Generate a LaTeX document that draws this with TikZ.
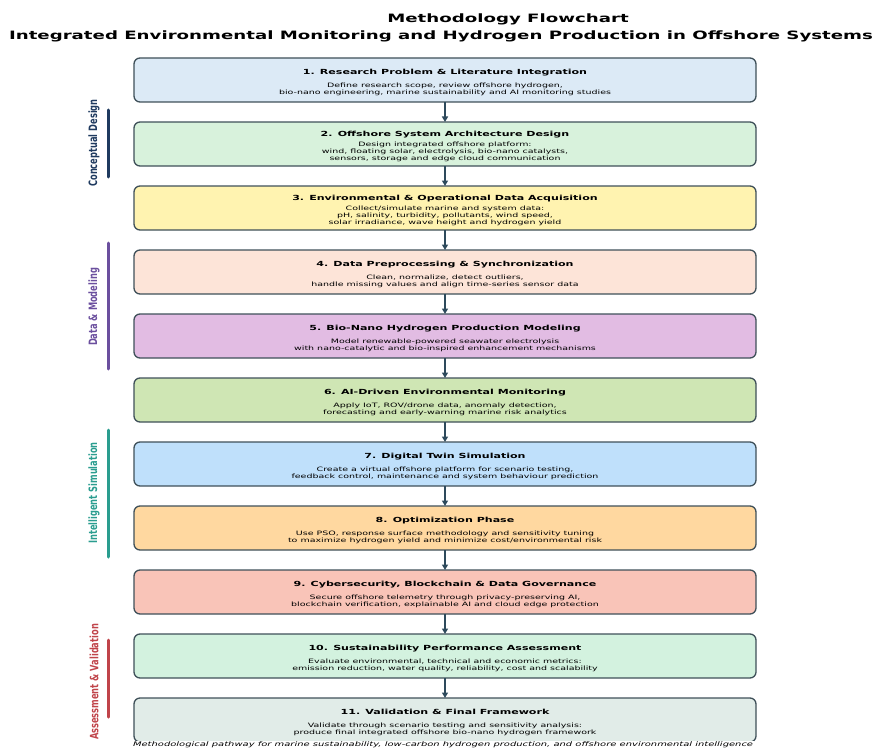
\documentclass[tikz,border=0pt]{standalone}
\usepackage{fontspec}
\setmainfont{DejaVu Sans}
\newfontfamily\widefont{DejaVu Sans}[FakeStretch=1.58]
\newfontfamily\narrowfont{DejaVu Sans}[FakeStretch=0.72]
\usetikzlibrary{positioning,arrows.meta}

\definecolor{boxline}{HTML}{3F5059}
\definecolor{arrowline}{HTML}{2E4A5C}
\definecolor{c1}{HTML}{DCEAF6}
\definecolor{c2}{HTML}{D8F2DC}
\definecolor{c3}{HTML}{FFF3B0}
\definecolor{c4}{HTML}{FDE4D8}
\definecolor{c5}{HTML}{E2BCE3}
\definecolor{c6}{HTML}{CFE6B4}
\definecolor{c7}{HTML}{BFE0FB}
\definecolor{c8}{HTML}{FFD8A0}
\definecolor{c9}{HTML}{F9C4B8}
\definecolor{c10}{HTML}{D3F2DF}
\definecolor{c11}{HTML}{E1ECE8}
\definecolor{gconcept}{HTML}{1F3A5F}
\definecolor{gdata}{HTML}{6B4F9E}
\definecolor{gsim}{HTML}{2A9D8F}
\definecolor{gassess}{HTML}{C0444A}

% heading line of a stage box, #1 = gap before the description
\newcommand{\stagehead}[2][5.5pt]{{\bfseries\fontsize{7}{8.4}\selectfont\rule{0pt}{10.5pt}#2}\\[#1]}

\tikzset{
  stage/.style={draw=boxline, line width=1.3pt, rounded corners=6pt, minimum width=622pt,
    minimum height=44pt, outer sep=0pt, align=center, inner sep=2pt,
    font=\widefont\fontsize{6}{7.2}\selectfont},
  flow/.style={->, draw=arrowline, line width=1.5pt},
  groupbar/.style={line width=3pt, line cap=round},
  grouplabel/.style={rotate=90, font=\narrowfont\bfseries\fontsize{11.5}{13}\selectfont},
  >={Triangle[length=5.5pt, width=6pt]}
}

\begin{document}
\begin{tikzpicture}[x=1pt, y=-1pt]
  \useasboundingbox (0,0) rectangle (877,749);
  % Title
  \node (title) at (508,19) {\widefont\bfseries\fontsize{11.5}{13}\selectfont Methodology Flowchart};
  \node (subtitle) at (441,36) {\widefont\bfseries\fontsize{11.5}{13}\selectfont Integrated Environmental Monitoring and Hydrogen Production in Offshore Systems};

  % Stages
  \node (s1) [stage, fill=c1] at (445,80) {\stagehead{1. Research Problem \& Literature Integration}
    Define research scope, review offshore hydrogen,\\
    bio-nano engineering, marine sustainability and AI monitoring studies};
  \node (s2) [stage, fill=c2, below=20pt of s1] {\stagehead[2.8pt]{2. Offshore System Architecture Design}
    Design integrated offshore platform:\\
    wind, floating solar, electrolysis, bio-nano catalysts,\\
    sensors, storage and edge cloud communication};
  \node (s3) [stage, fill=c3, below=20pt of s2] {\stagehead[2.8pt]{3. Environmental \& Operational Data Acquisition}
    Collect/simulate marine and system data:\\
    pH, salinity, turbidity, pollutants, wind speed,\\
    solar irradiance, wave height and hydrogen yield};
  \node (s4) [stage, fill=c4, below=20pt of s3] {\stagehead{4. Data Preprocessing \& Synchronization}
    Clean, normalize, detect outliers,\\
    handle missing values and align time-series sensor data};
  \node (s5) [stage, fill=c5, below=20pt of s4] {\stagehead{5. Bio-Nano Hydrogen Production Modeling}
    Model renewable-powered seawater electrolysis\\
    with nano-catalytic and bio-inspired enhancement mechanisms};
  \node (s6) [stage, fill=c6, below=20pt of s5] {\stagehead{6. AI-Driven Environmental Monitoring}
    Apply IoT, ROV/drone data, anomaly detection,\\
    forecasting and early-warning marine risk analytics};
  \node (s7) [stage, fill=c7, below=20pt of s6] {\stagehead{7. Digital Twin Simulation}
    Create a virtual offshore platform for scenario testing,\\
    feedback control, maintenance and system behaviour prediction};
  \node (s8) [stage, fill=c8, below=20pt of s7] {\stagehead{8. Optimization Phase}
    Use PSO, response surface methodology and sensitivity tuning\\
    to maximize hydrogen yield and minimize cost/environmental risk};
  \node (s9) [stage, fill=c9, below=20pt of s8] {\stagehead{9. Cybersecurity, Blockchain \& Data Governance}
    Secure offshore telemetry through privacy-preserving AI,\\
    blockchain verification, explainable AI and cloud edge protection};
  \node (s10) [stage, fill=c10, below=20pt of s9] {\stagehead{10. Sustainability Performance Assessment}
    Evaluate environmental, technical and economic metrics:\\
    emission reduction, water quality, reliability, cost and scalability};
  \node (s11) [stage, fill=c11, below=20pt of s10] {\stagehead{11. Validation \& Final Framework}
    Validate through scenario testing and sensitivity analysis:\\
    produce final integrated offshore bio-nano hydrogen framework};

  % Flow arrows
  \draw[flow] (s1) -- (s2);
  \draw[flow] (s2) -- (s3);
  \draw[flow] (s3) -- (s4);
  \draw[flow] (s4) -- (s5);
  \draw[flow] (s5) -- (s6);
  \draw[flow] (s6) -- (s7);
  \draw[flow] (s7) -- (s8);
  \draw[flow] (s8) -- (s9);
  \draw[flow] (s9) -- (s10);
  \draw[flow] (s10) -- (s11);

  % Phase groups
  \draw[groupbar, gconcept] (108,110) -- (108,177);
  \node (gconceptlabel) [grouplabel, text=gconcept] at (94,143) {Conceptual Design};
  \draw[groupbar, gdata] (108,243) -- (108,369);
  \node (gdatalabel) [grouplabel, text=gdata] at (94,307) {Data \& Modeling};
  \draw[groupbar, gsim] (108,430) -- (108,557);
  \node (gsimlabel) [grouplabel, text=gsim] at (94,493) {Intelligent Simulation};
  \draw[groupbar, gassess] (108,640) -- (108,717);
  \node (gassesslabel) [grouplabel, text=gassess] at (94,682) {Assessment \& Validation};

  % Caption
  \node (caption) [fill=white, inner sep=0.8pt] at (443,744.5) {\widefont\itshape\fontsize{6.3}{7}\selectfont Methodological pathway for marine sustainability, low-carbon hydrogen production, and offshore environmental intelligence};
\end{tikzpicture}
\end{document}
